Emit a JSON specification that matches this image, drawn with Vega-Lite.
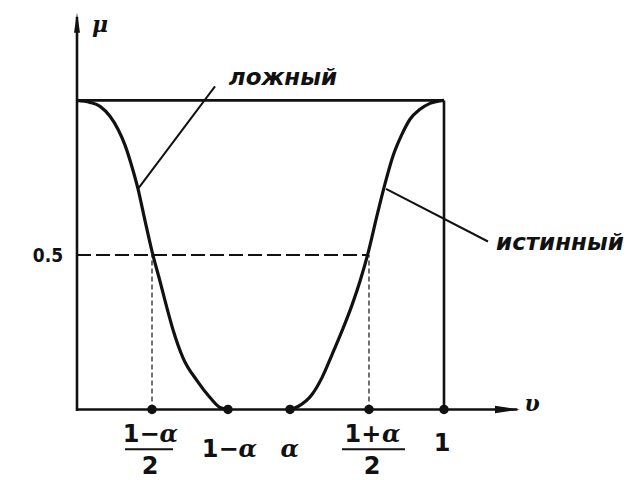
{
  "$schema": "https://vega.github.io/schema/vega-lite/v6.json",
  "width": 633,
  "height": 480,
  "padding": 0,
  "autosize": {"type": "fit", "contains": "padding"},
  "background": "white",
  "config": {"view": {"stroke": null}},
  "datasets": {
    "curves": [
      {"curve": "false", "x": 0, "y": 1.0},
      {"curve": "false", "x": 0.0354, "y": 0.9936},
      {"curve": "false", "x": 0.0627, "y": 0.9807},
      {"curve": "false", "x": 0.0899, "y": 0.9486},
      {"curve": "false", "x": 0.1117, "y": 0.9068},
      {"curve": "false", "x": 0.1308, "y": 0.8553},
      {"curve": "false", "x": 0.1499, "y": 0.7846},
      {"curve": "false", "x": 0.1662, "y": 0.7138},
      {"curve": "false", "x": 0.1853, "y": 0.6109},
      {"curve": "false", "x": 0.2044, "y": 0.5113},
      {"curve": "false", "x": 0.2262, "y": 0.4148},
      {"curve": "false", "x": 0.2452, "y": 0.328},
      {"curve": "false", "x": 0.2616, "y": 0.258},
      {"curve": "false", "x": 0.2888, "y": 0.1672},
      {"curve": "false", "x": 0.327, "y": 0.0932},
      {"curve": "false", "x": 0.3624, "y": 0.0386},
      {"curve": "false", "x": 0.3896, "y": 0.0064},
      {"curve": "false", "x": 0.4114, "y": 0},
      {"curve": "true", "x": 0.5804, "y": 0},
      {"curve": "true", "x": 0.6022, "y": 0.0096},
      {"curve": "true", "x": 0.6403, "y": 0.0482},
      {"curve": "true", "x": 0.6676, "y": 0.1029},
      {"curve": "true", "x": 0.6948, "y": 0.1768},
      {"curve": "true", "x": 0.7221, "y": 0.254},
      {"curve": "true", "x": 0.7493, "y": 0.3376},
      {"curve": "true", "x": 0.7711, "y": 0.4148},
      {"curve": "true", "x": 0.7929, "y": 0.5048},
      {"curve": "true", "x": 0.8174, "y": 0.627},
      {"curve": "true", "x": 0.8392, "y": 0.7299},
      {"curve": "true", "x": 0.861, "y": 0.8199},
      {"curve": "true", "x": 0.8856, "y": 0.8907},
      {"curve": "true", "x": 0.9074, "y": 0.9389},
      {"curve": "true", "x": 0.9346, "y": 0.9711},
      {"curve": "true", "x": 0.9619, "y": 0.9904},
      {"curve": "true", "x": 1.0, "y": 1.0}
    ],
    "solid": [
      {"seg": "y axis", "x": 0, "y": -0.005, "x2": 0, "y2": 1.27},
      {"seg": "x axis", "x": 0, "y": 0, "x2": 1.2, "y2": 0},
      {"seg": "top", "x": 0, "y": 1.0, "x2": 1.0, "y2": 1.0},
      {"seg": "right", "x": 1.0, "y": 0, "x2": 1.0, "y2": 1.0}
    ],
    "leaders": [
      {"label": "ложный", "x": 0.376, "y": 1.045, "x2": 0.1662, "y2": 0.7138},
      {"label": "истинный", "x": 0.842, "y": 0.7138, "x2": 1.1199, "y2": 0.5434}
    ],
    "dashH": [
      {"x": 0, "y": 0.5, "x2": 0.7956, "y2": 0.5}
    ],
    "dashV": [
      {"x": 0.2044, "y": 0, "x2": 0.2044, "y2": 0.5},
      {"x": 0.7956, "y": 0, "x2": 0.7956, "y2": 0.5}
    ],
    "dots": [
      {"name": "(1-a)/2", "x": 0.2044, "y": 0},
      {"name": "1-a", "x": 0.4114, "y": 0},
      {"name": "a", "x": 0.5804, "y": 0},
      {"name": "(1+a)/2", "x": 0.7956, "y": 0},
      {"name": "1", "x": 1.0, "y": 0}
    ],
    "fracbars": [
      {"x": 0.1308, "y": -0.1286, "x2": 0.2616, "y2": -0.1286},
      {"x": 0.7221, "y": -0.1286, "x2": 0.8937, "y2": -0.1286}
    ],
    "ticklabels": [
      {"text": "1−", "x": 0.175, "y": -0.0836},
      {"text": "2", "x": 0.199, "y": -0.1865},
      {"text": "1−", "x": 0.39, "y": -0.1318},
      {"text": "1+", "x": 0.779, "y": -0.0836},
      {"text": "2", "x": 0.8038, "y": -0.1865},
      {"text": "1", "x": 0.9946, "y": -0.1125}
    ],
    "alphas": [
      {"text": "α", "x": 0.25, "y": -0.0836},
      {"text": "α", "x": 0.465, "y": -0.1318},
      {"text": "α", "x": 0.58, "y": -0.1318},
      {"text": "α", "x": 0.856, "y": -0.0836}
    ],
    "names": [
      {"text": "ложный", "x": 0.5613, "y": 1.074},
      {"text": "истинный", "x": 1.316, "y": 0.537}
    ],
    "axisnames": [
      {"text": "μ", "x": 0.0627, "y": 1.2444},
      {"text": "υ", "x": 1.2398, "y": 0.016}
    ],
    "ylabel": [
      {"text": "0.5", "x": -0.079, "y": 0.498}
    ],
    "arrowX": [{"x": 1.173, "y": 0}],
    "arrowY": [{"x": 0, "y": 1.2508}]
  },
  "encoding": {
    "x": {"field": "x", "type": "quantitative", "axis": null,
          "scale": {"domain": [-0.2098, 1.515], "nice": false, "zero": false}},
    "y": {"field": "y", "type": "quantitative", "axis": null,
          "scale": {"domain": [-0.2186, 1.3248], "nice": false, "zero": false}}
  },
  "layer": [
    {
      "data": {"name": "dashV"},
      "mark": {"type": "rule", "color": "#444", "strokeWidth": 1.5, "strokeDash": [5, 3]},
      "encoding": {"x2": {"field": "x2"}, "y2": {"field": "y2"}}
    },
    {
      "data": {"name": "dashH"},
      "mark": {"type": "rule", "color": "#111", "strokeWidth": 2, "strokeDash": [14, 5]},
      "encoding": {"x2": {"field": "x2"}, "y2": {"field": "y2"}}
    },
    {
      "data": {"name": "solid"},
      "mark": {"type": "rule", "color": "#111", "strokeWidth": 2.6},
      "encoding": {"x2": {"field": "x2"}, "y2": {"field": "y2"}}
    },
    {
      "data": {"name": "leaders"},
      "mark": {"type": "rule", "color": "#111", "strokeWidth": 2},
      "encoding": {"x2": {"field": "x2"}, "y2": {"field": "y2"}}
    },
    {
      "data": {"name": "fracbars"},
      "mark": {"type": "rule", "color": "#111", "strokeWidth": 2},
      "encoding": {"x2": {"field": "x2"}, "y2": {"field": "y2"}}
    },
    {
      "data": {"name": "curves"},
      "mark": {"type": "line", "color": "#111", "strokeWidth": 3.2, "interpolate": "monotone"},
      "encoding": {"detail": {"field": "curve", "type": "nominal"}}
    },
    {
      "data": {"name": "dots"},
      "mark": {"type": "point", "filled": true, "color": "#111", "opacity": 1, "size": 90, "shape": "circle"}
    },
    {
      "data": {"name": "arrowX"},
      "mark": {"type": "point", "filled": true, "color": "#111", "opacity": 1, "size": 625, "shape": "M1,0L-1,-0.3L-1,0.3Z"}
    },
    {
      "data": {"name": "arrowY"},
      "mark": {"type": "point", "filled": true, "color": "#111", "opacity": 1, "size": 400, "shape": "M0,-1L0.3,1L-0.3,1Z"}
    },
    {
      "data": {"name": "ticklabels"},
      "mark": {"type": "text", "font": "DejaVu Sans", "fontSize": 24, "fontWeight": "bold", "color": "#111", "baseline": "middle", "align": "center"},
      "encoding": {"text": {"field": "text"}}
    },
    {
      "data": {"name": "alphas"},
      "mark": {"type": "text", "font": "DejaVu Serif", "fontSize": 24, "fontStyle": "italic", "fontWeight": "bold", "color": "#111", "baseline": "middle", "align": "center"},
      "encoding": {"text": {"field": "text"}}
    },
    {
      "data": {"name": "names"},
      "mark": {"type": "text", "font": "DejaVu Sans", "fontSize": 23, "fontWeight": "bold", "fontStyle": "italic", "color": "#111", "baseline": "middle", "align": "center"},
      "encoding": {"text": {"field": "text"}}
    },
    {
      "data": {"name": "axisnames"},
      "mark": {"type": "text", "font": "DejaVu Serif", "fontSize": 22, "fontStyle": "italic", "fontWeight": "bold", "color": "#111", "baseline": "middle", "align": "center"},
      "encoding": {"text": {"field": "text"}}
    },
    {
      "data": {"name": "ylabel"},
      "mark": {"type": "text", "font": "DejaVu Sans Condensed", "fontSize": 19, "fontWeight": "bold", "color": "#111", "baseline": "middle", "align": "center"},
      "encoding": {"text": {"field": "text"}}
    }
  ]
}
